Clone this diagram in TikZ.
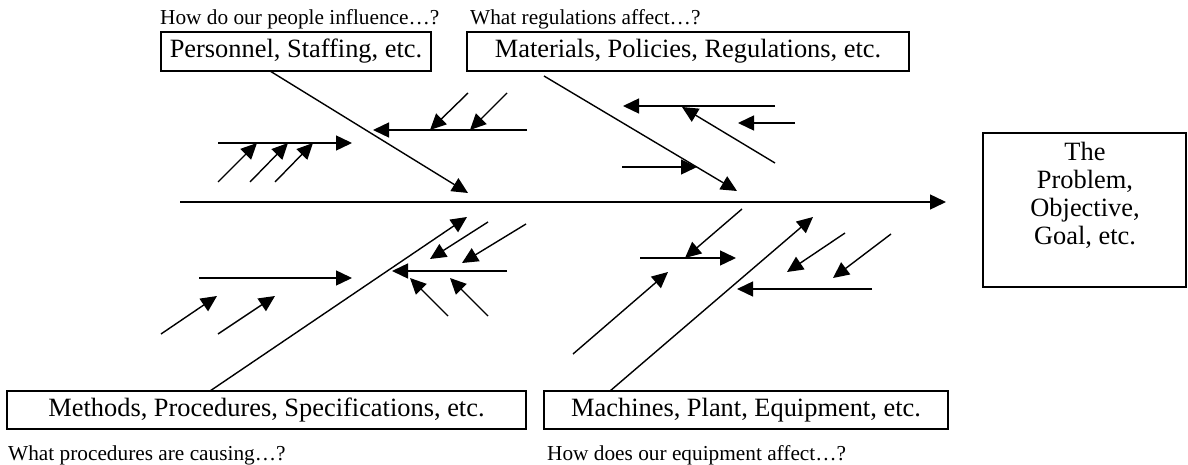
\documentclass[tikz,border=0pt]{standalone}
\usepackage{fontspec}
\setmainfont{Liberation Serif}
\usetikzlibrary{arrows.meta}
\tikzset{
  box/.style={draw, line width=1.6pt, inner sep=0pt, font=\fontsize{26.4}{29}\selectfont},
  qtext/.style={inner sep=0pt, anchor=base west, font=\fontsize{21.3}{25}\selectfont},
  arr/.style={line width=1.4pt, -{Triangle[length=16pt,width=15pt]}},
}
\begin{document}
\begin{tikzpicture}[x=1pt,y=-1pt]
\useasboundingbox (0,0) rectangle (1188,465);

% boxes
\node[box, minimum width=270pt, minimum height=39pt] (pers) at (296,51.5) {Personnel, Staffing, etc.};
\node[box, minimum width=442pt, minimum height=39pt] (mat) at (688,51.5) {Materials, Policies, Regulations, etc.};
\node[box, minimum width=519pt, minimum height=38pt] (meth) at (266.5,410) {Methods, Procedures, Specifications, etc.};
\node[box, minimum width=404pt, minimum height=38pt] (mach) at (746,410) {Machines, Plant, Equipment, etc.};
\node[box, minimum width=203pt, minimum height=154pt] (prob) at (1084.5,210) {};
\node[align=center, inner sep=0pt, font=\fontsize{26.4}{28}\selectfont] (probtext) at (1085,195) {The\\Problem,\\Objective,\\Goal, etc.};

% questions
\node[qtext] (q1) at (160,25) {How do our people influence…?};
\node[qtext] (q2) at (470,25) {What regulations affect…?};
\node[qtext] (q3) at (8,460) {What procedures are causing…?};
\node[qtext] (q4) at (547,460) {How does our equipment affect…?};

% spine
\coordinate (s1) at (180,202);
\coordinate (s2) at (946,202);
\draw[arr] (s1) -- (s2);

% Personnel branch
\coordinate (pd0) at (270,71);
\coordinate (pd1) at (468,193);
\draw[arr] (pd0) -- (pd1);
\coordinate (h1a) at (527,130); \coordinate (h1b) at (373,130);
\draw[arr] (h1a) -- (h1b);
\coordinate (a1a) at (468,93); \coordinate (a1b) at (430,130);
\draw[arr] (a1a) -- (a1b);
\coordinate (a2a) at (507,93); \coordinate (a2b) at (470,130);
\draw[arr] (a2a) -- (a2b);
\coordinate (h2a) at (218,143); \coordinate (h2b) at (352,143);
\draw[arr] (h2a) -- (h2b);
\coordinate (b1a) at (218,182); \coordinate (b1b) at (257,143);
\draw[arr] (b1a) -- (b1b);
\coordinate (b2a) at (250,182); \coordinate (b2b) at (288,143);
\draw[arr] (b2a) -- (b2b);
\coordinate (b3a) at (275,182); \coordinate (b3b) at (313,143);
\draw[arr] (b3a) -- (b3b);

% Materials branch
\coordinate (md0) at (544,76);
\coordinate (md1) at (737,191);
\draw[arr] (md0) -- (md1);
\coordinate (h3a) at (775,106); \coordinate (h3b) at (623,106);
\draw[arr] (h3a) -- (h3b);
\coordinate (c1a) at (775,163); \coordinate (c1b) at (682,107);
\draw[arr] (c1a) -- (c1b);
\coordinate (h4a) at (795,123); \coordinate (h4b) at (738,123);
\draw[arr] (h4a) -- (h4b);
\coordinate (h5a) at (622,167); \coordinate (h5b) at (697,167);
\draw[arr] (h5a) -- (h5b);

% Methods branch
\coordinate (ed0) at (210,391);
\coordinate (ed1) at (467,217);
\draw[arr] (ed0) -- (ed1);
\coordinate (d1a) at (488,222); \coordinate (d1b) at (430,259);
\draw[arr] (d1a) -- (d1b);
\coordinate (d2a) at (526,224); \coordinate (d2b) at (462,263);
\draw[arr] (d2a) -- (d2b);
\coordinate (h6a) at (507,271); \coordinate (h6b) at (392,271);
\draw[arr] (h6a) -- (h6b);
\coordinate (e1a) at (448,316); \coordinate (e1b) at (410,278);
\draw[arr] (e1a) -- (e1b);
\coordinate (e2a) at (488,316); \coordinate (e2b) at (450,278);
\draw[arr] (e2a) -- (e2b);
\coordinate (h7a) at (199,278); \coordinate (h7b) at (352,278);
\draw[arr] (h7a) -- (h7b);
\coordinate (f1a) at (161,334); \coordinate (f1b) at (217,296);
\draw[arr] (f1a) -- (f1b);
\coordinate (f2a) at (218,334); \coordinate (f2b) at (275,296);
\draw[arr] (f2a) -- (f2b);

% Machines branch
\coordinate (nd0) at (610,391);
\coordinate (nd1) at (813,217);
\draw[arr] (nd0) -- (nd1);
\coordinate (g1a) at (742,209); \coordinate (g1b) at (685,258);
\draw[arr] (g1a) -- (g1b);
\coordinate (h8a) at (640,258); \coordinate (h8b) at (736,258);
\draw[arr] (h8a) -- (h8b);
\coordinate (g2a) at (573,354); \coordinate (g2b) at (668,272);
\draw[arr] (g2a) -- (g2b);
\coordinate (g3a) at (845,233); \coordinate (g3b) at (787,272);
\draw[arr] (g3a) -- (g3b);
\coordinate (g4a) at (891,234); \coordinate (g4b) at (833,278);
\draw[arr] (g4a) -- (g4b);
\coordinate (h9a) at (872,289); \coordinate (h9b) at (737,289);
\draw[arr] (h9a) -- (h9b);
\end{tikzpicture}
\end{document}
